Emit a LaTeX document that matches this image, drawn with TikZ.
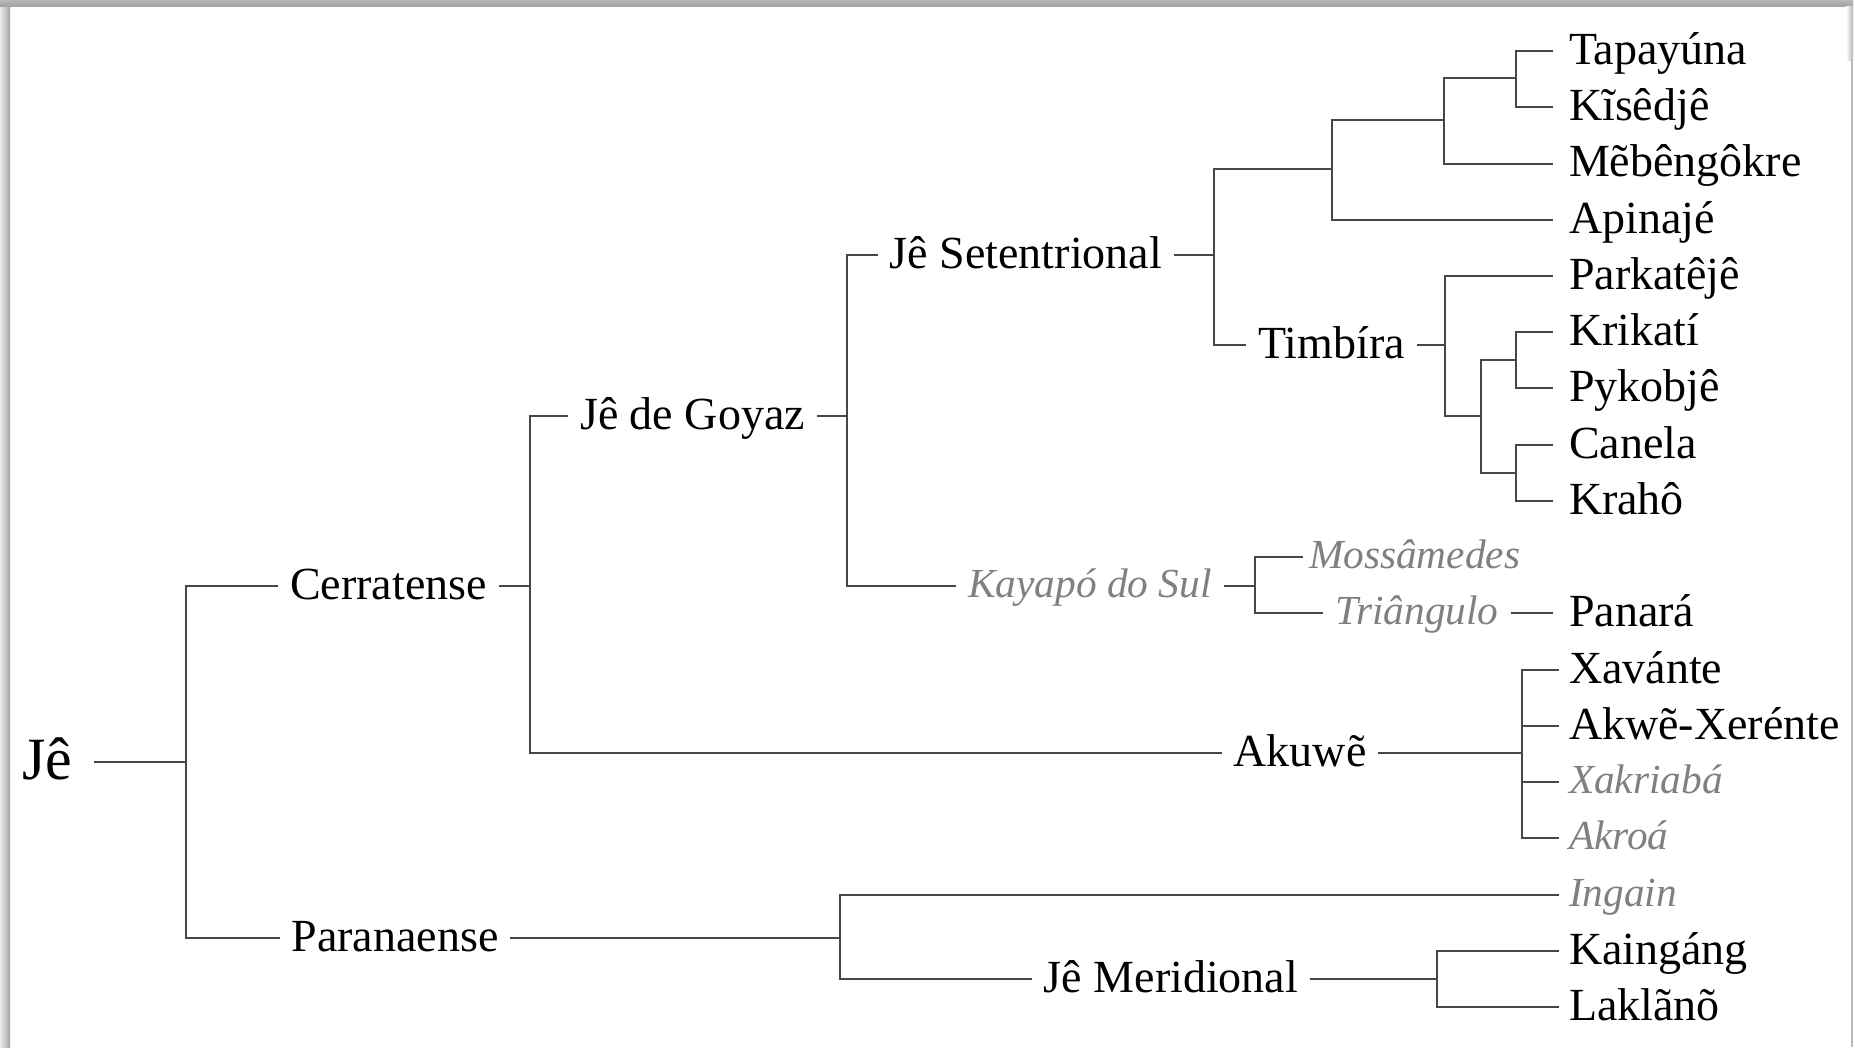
\documentclass[tikz,border=0pt]{standalone}
\usepackage{fontspec}
\setmainfont{Liberation Serif}
\begin{document}
\begin{tikzpicture}[x=0.75pt,y=-0.75pt,
  conn/.style={draw=black!72, line width=1.5pt},
  lbl/.style={inner sep=0pt, outer xsep=9pt, outer ysep=0pt,
    font=\fontsize{34.5pt}{40pt}\selectfont, text height=19.5pt, text depth=0pt},
  ital/.style={lbl, font=\fontsize{31pt}{36pt}\selectfont\itshape, text=black!50, text height=16.5pt},
  rootlbl/.style={lbl, font=\fontsize{45pt}{50pt}\selectfont, text height=25.5pt, outer xsep=16.5pt},
  leaf/.style={lbl, anchor=west, outer xsep=12pt},
  leafb/.style={lbl, anchor=west, outer xsep=7.5pt},
  ileafb/.style={ital, anchor=west, outer xsep=7.5pt}
]
% page and frame shadow
\useasboundingbox (0,0) rectangle (1855,1047);
\fill[white] (0,0) rectangle (1855,1047);
\shade[left color=black!8, right color=black!36] (0,0) rectangle (10,1047);
\shade[top color=black!28, bottom color=black!36] (0,0) rectangle (1853,6);
\shade[left color=white, right color=black!30] (1846,6) rectangle (1853,60);
\fill[black!28] (1851,60) rectangle (1853,1047);

% junction points
\coordinate (J0) at (186,762);
\coordinate (J1) at (530,586);
\coordinate (J2) at (840,938);
\coordinate (J3) at (1437,979);
\coordinate (J4) at (847,416);
\coordinate (J5) at (1214,255);
\coordinate (J6) at (1332,169);
\coordinate (J7) at (1444,120);
\coordinate (J8) at (1516,78);
\coordinate (J9) at (1445,345);
\coordinate (J10) at (1481,416);
\coordinate (J11) at (1516,360);
\coordinate (J12) at (1516,473);
\coordinate (J13) at (1255,586);
\coordinate (J14) at (1522,753);

% internal labels
\node[rootlbl] (je) at (47,762) {Jê};
\node[lbl] (cerr) at (388.5,586) {Cerratense};
\node[lbl] (para) at (395,938) {Paranaense};
\node[lbl] (goyaz) at (692.5,416) {Jê de Goyaz};
\node[lbl] (akuwe) at (1300,753) {Akuwẽ};
\node[lbl] (setent) at (1026,255) {Jê Setentrional};
\node[ital] (kayapo) at (1090,586) {Kayapó do Sul};
\node[lbl] (timbira) at (1331.5,345) {Timbíra};
\node[ital, anchor=west, outer xsep=4.5pt] (moss) at (1303,557) {Mossâmedes};
\node[ital] (triang) at (1417,613) {Triângulo};
\node[lbl] (merid) at (1171,979) {Jê Meridional};

% leaves
\node[leaf] (tap) at (1553,51) {Tapayúna};
\node[leaf] (kis) at (1553,107) {Kĩsêdjê};
\node[leaf] (meb) at (1553,163.5) {Mẽbêngôkre};
\node[leaf] (apin) at (1553,220) {Apinajé};
\node[leaf] (park) at (1553,276) {Parkatêjê};
\node[leaf] (krik) at (1553,332) {Krikatí};
\node[leaf] (pyk) at (1553,388) {Pykobjê};
\node[leaf] (canela) at (1553,445) {Canela};
\node[leaf] (kraho) at (1553,501) {Krahô};
\node[leaf] (panara) at (1553,613) {Panará};
\node[leafb] (xav) at (1559,670) {Xavánte};
\node[leafb] (akx) at (1559,726) {Akwẽ-Xerénte};
\node[ileafb] (xak) at (1559,782) {Xakriabá};
\node[ileafb] (akroa) at (1559,838) {Akroá};
\node[ileafb] (ingain) at (1559,895) {Ingain};
\node[leafb] (kaing) at (1559,951) {Kaingáng};
\node[leafb] (lakl) at (1559,1007) {Laklãnõ};

% connectors
\draw[conn] (je) -- (J0);
\draw[conn] (J0) |- (cerr);
\draw[conn] (J0) |- (para);
\draw[conn] (cerr) -- (J1);
\draw[conn] (J1) |- (goyaz);
\draw[conn] (J1) |- (akuwe);
\draw[conn] (goyaz) -- (J4);
\draw[conn] (J4) |- (setent);
\draw[conn] (J4) |- (kayapo);
\draw[conn] (setent) -- (J5);
\draw[conn] (J5) |- (J6);
\draw[conn] (J5) |- (timbira);
\draw[conn] (J6) |- (J7);
\draw[conn] (J6) |- (apin);
\draw[conn] (J7) |- (J8);
\draw[conn] (J7) |- (meb);
\draw[conn] (J8) |- (tap);
\draw[conn] (J8) |- (kis);
\draw[conn] (timbira) -- (J9);
\draw[conn] (J9) |- (park);
\draw[conn] (J9) |- (J10);
\draw[conn] (J10) |- (J11);
\draw[conn] (J10) |- (J12);
\draw[conn] (J11) |- (krik);
\draw[conn] (J11) |- (pyk);
\draw[conn] (J12) |- (canela);
\draw[conn] (J12) |- (kraho);
\draw[conn] (kayapo) -- (J13);
\draw[conn] (J13) |- (moss);
\draw[conn] (J13) |- (triang);
\draw[conn] (triang) -- (panara);
\draw[conn] (akuwe) -- (J14);
\draw[conn] (J14) |- (xav);
\draw[conn] (J14) |- (akx);
\draw[conn] (J14) |- (xak);
\draw[conn] (J14) |- (akroa);
\draw[conn] (para) -- (J2);
\draw[conn] (J2) |- (ingain);
\draw[conn] (J2) |- (merid);
\draw[conn] (merid) -- (J3);
\draw[conn] (J3) |- (kaing);
\draw[conn] (J3) |- (lakl);
\end{tikzpicture}
\end{document}
